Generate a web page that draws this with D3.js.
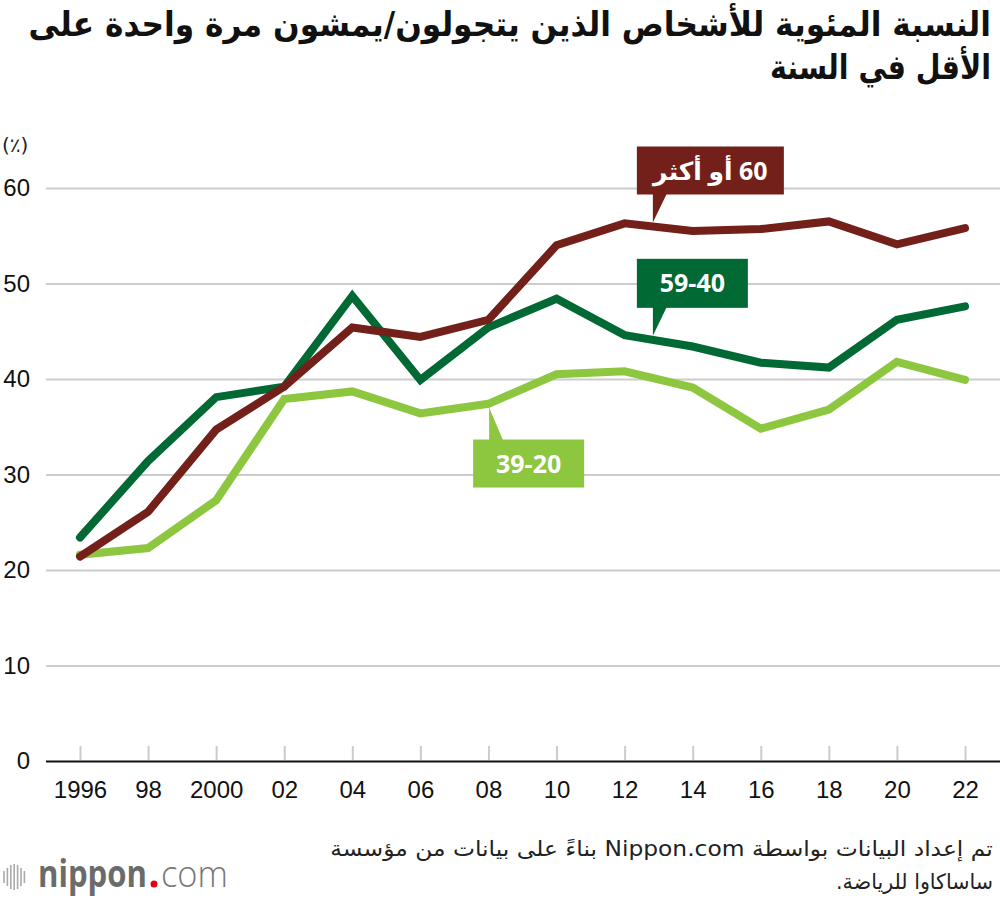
<!DOCTYPE html>
<html>
<head>
<meta charset="utf-8">
<script src="https://cdn.jsdelivr.net/npm/d3@7"></script>
<style>
  body { margin: 0; background: #fff; }
  svg { display: block; }
</style>
</head>
<body>
<svg width="1000" height="900"></svg>
<script>
const years = [1996, 1998, 2000, 2002, 2004, 2006, 2008, 2010, 2012, 2014, 2016, 2018, 2020, 2022];
const yearLabels = ['1996', '98', '2000', '02', '04', '06', '08', '10', '12', '14', '16', '18', '20', '22'];
const age20to39 = [21.6, 22.3, 27.3, 37.9, 38.7, 36.4, 37.4, 40.5, 40.8, 39.1, 34.8, 36.8, 41.8, 39.9];
const age40to59 = [23.4, 31.4, 38.1, 39.2, 48.7, 39.9, 45.4, 48.4, 44.6, 43.4, 41.7, 41.2, 46.2, 47.6];
const age60plus = [21.4, 26.1, 34.7, 39.2, 45.4, 44.4, 46.2, 54.0, 56.3, 55.5, 55.7, 56.5, 54.1, 55.8];
const yTicks = [0, 10, 20, 30, 40, 50, 60];
const seriesNames = ['39-20', '59-40', '60 أو أكثر'];

const titleLines = [
  'النسبة المئوية للأشخاص الذين يتجولون/يمشون مرة واحدة على',
  'الأقل في السنة'
];
const sourceLines = [
  'تم إعداد البيانات بواسطة Nippon.com بناءً على بيانات من مؤسسة',
  'ساساكاوا للرياضة.'
];

const svg = d3.select('svg');
const numFont = '"Liberation Sans", Arial, sans-serif';
const arFont = '"DejaVu Sans", sans-serif';

const series = [
  { name: seriesNames[0], values: age20to39, color: '#8dc63f' },
  { name: seriesNames[1], values: age40to59, color: '#006934' },
  { name: seriesNames[2], values: age60plus, color: '#74201a' }
];

const gridLeft = 46;
const gridRight = 1000;

const x = d3.scaleLinear().domain([1996, 2022]).range([80, 965]);
const y = d3.scaleLinear().domain([0, 60]).range([761, 188]);

// stretch a text so it spans left..right (arabic text is set rtl)
function fitText(sel, left, right) {
  const bb = sel.node().getBBox();
  const sx = (right - left) / bb.width;
  sel.attr('transform', `translate(${left - bb.x * sx}, 0) scale(${sx}, 1)`);
}

// title
titleLines.forEach((t, i) => {
  const txt = svg.append('text')
    .attr('x', 0)
    .attr('y', [36, 79][i])
    .attr('direction', 'rtl')
    .style('font-family', arFont)
    .style('font-weight', 'bold')
    .style('font-size', '34px')
    .attr('fill', '#111')
    .text(t);
  fitText(txt, [28, 770][i], 991);
});

// unit
svg.append('text')
  .attr('x', 2)
  .attr('y', 152)
  .style('font-family', arFont)
  .style('font-size', '20px')
  .attr('fill', '#222')
  .text('(٪)');

// y axis + grid
const yAxis = d3.axisLeft(y)
  .tickValues(yTicks)
  .tickSize(-(gridRight - gridLeft))
  .tickPadding(16);

const gy = svg.append('g')
  .attr('transform', `translate(${gridLeft}, 0)`)
  .call(yAxis);
gy.select('.domain').remove();
gy.selectAll('.tick line')
  .attr('stroke', (d) => (d === 0 ? '#111' : '#cccccc'))
  .attr('stroke-width', 2);
gy.selectAll('.tick text')
  .style('font-family', numFont)
  .style('font-size', '24px')
  .attr('fill', '#111');

// x axis, ticks point up from the baseline
const xAxis = d3.axisBottom(x)
  .tickValues(years)
  .tickFormat((d, i) => yearLabels[i])
  .tickSize(-14)
  .tickPadding(20);

const gx = svg.append('g')
  .attr('transform', `translate(0, ${y(0)})`)
  .call(xAxis);
gx.select('.domain').remove();
gx.selectAll('.tick line')
  .attr('stroke', '#cccccc')
  .attr('stroke-width', 2)
  .attr('transform', 'translate(0,-1)');
gx.selectAll('.tick text')
  .style('font-family', numFont)
  .style('font-size', '24px')
  .attr('fill', '#111');

// keep the zero line on top of the tick marks
gy.raise();

// lines
const line = d3.line()
  .x((d, i) => x(years[i]))
  .y((d) => y(d));

svg.append('g')
  .selectAll('path')
  .data(series)
  .enter()
  .append('path')
  .attr('d', (d) => line(d.values))
  .attr('fill', 'none')
  .attr('stroke', (d) => d.color)
  .attr('stroke-width', 8)
  .attr('stroke-linecap', 'round')
  .attr('stroke-linejoin', 'miter');

// callouts
function valueAt(values, yr) {
  const i = Math.min(d3.bisectRight(years, yr), years.length - 1);
  const t = (yr - years[i - 1]) / (years[i] - years[i - 1]);
  return values[i - 1] + t * (values[i] - values[i - 1]);
}

const callouts = [
  { s: series[2], year: 2012.83, w: 147, h: 48, below: false },
  { s: series[1], year: 2012.83, w: 111, h: 49, below: false },
  { s: series[0], year: 2008.02, w: 111, h: 48, below: true }
];

callouts.forEach((c) => {
  const tx = x(c.year);
  const ty = y(valueAt(c.s.values, c.year)) + (c.below ? 4 : -4);
  const bx = tx - 16;
  const by = c.below ? ty + 32 : ty - 28 - c.h;
  const edge = c.below ? by + 1 : by + c.h - 1;
  const g = svg.append('g');
  g.append('path')
    .attr('d', `M${tx},${edge}L${tx},${ty}L${tx + 14},${edge}Z`)
    .attr('fill', c.s.color);
  g.append('rect')
    .attr('x', bx)
    .attr('y', by)
    .attr('width', c.w)
    .attr('height', c.h)
    .attr('fill', c.s.color);
  g.append('text')
    .attr('x', bx + c.w / 2)
    .attr('y', by + c.h / 2 + 9)
    .attr('text-anchor', 'middle')
    .attr('direction', c.s === series[2] ? 'rtl' : 'ltr')
    .style('font-family', '"Open Sans", "DejaVu Sans", sans-serif')
    .style('font-weight', 'bold')
    .style('font-size', '25px')
    .attr('fill', '#fff')
    .text(c.s.name);
});

// source
sourceLines.forEach((t, i) => {
  const txt = svg.append('text')
    .attr('x', 0)
    .attr('y', [856, 889][i])
    .attr('direction', 'rtl')
    .style('font-family', arFont)
    .style('font-size', '21px')
    .attr('fill', '#222')
    .text(t);
  fitText(txt, [330, 836][i], 993);
});

// logo
const logo = svg.append('g');
const barH = [12, 18, 24, 26, 24, 18, 12];
barH.forEach((h, i) => {
  logo.append('line')
    .attr('x1', 4 + i * 3.4)
    .attr('x2', 4 + i * 3.4)
    .attr('y1', 877 - h / 2)
    .attr('y2', 877 + h / 2)
    .attr('stroke', '#aaa')
    .attr('stroke-width', 1.6);
});
const nip = logo.append('text')
  .attr('x', 0).attr('y', 887)
  .style('font-family', '"Open Sans", sans-serif')
  .style('font-weight', 'bold')
  .style('font-size', '37px')
  .attr('fill', '#6b6b6b')
  .text('nippon');
fitText(nip, 38, 147);
logo.append('circle')
  .attr('cx', 154).attr('cy', 884).attr('r', 3.5)
  .attr('fill', '#e60012');
const com = logo.append('text')
  .attr('x', 0).attr('y', 887)
  .style('font-family', '"Open Sans", sans-serif')
  .style('font-weight', 300)
  .style('font-size', '36px')
  .attr('fill', '#777')
  .text('com');
fitText(com, 161, 228);
</script>
</body>
</html>
